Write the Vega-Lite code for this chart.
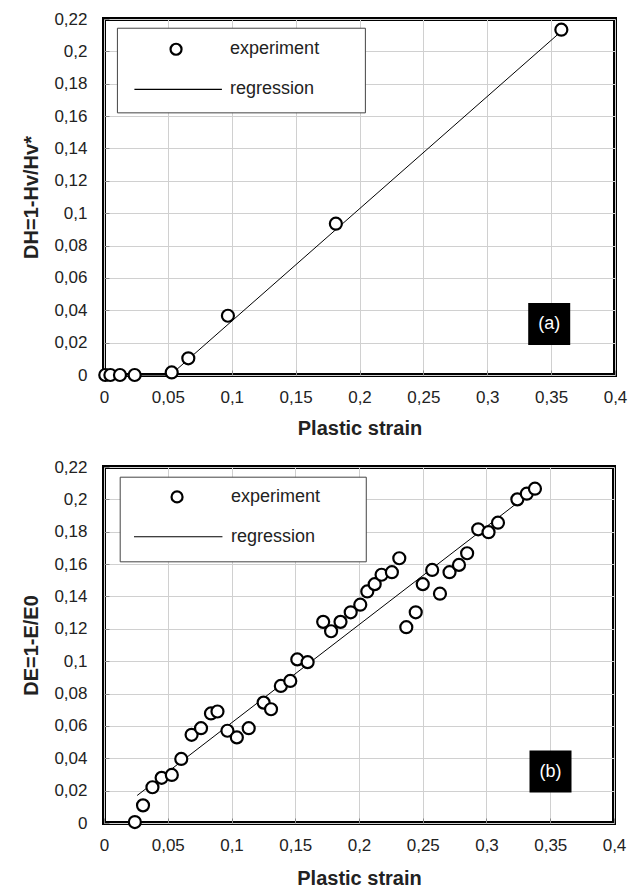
{
  "$schema": "https://vega.github.io/schema/vega-lite/v6.json",
  "background": "white",
  "padding": {"left": 19, "top": 8, "right": 2, "bottom": 4},
  "spacing": 16,
  "config": {
    "font": "Liberation Sans",
    "view": {"stroke": "black", "strokeWidth": 4},
    "axis": {
      "grid": true, "gridColor": "#d0d0d0", "gridWidth": 1,
      "domain": false, "ticks": true, "tickSize": -5, "tickColor": "#888888", "tickWidth": 1,
      "labelFont": "Liberation Sans", "labelFontSize": 17, "labelColor": "#222222",
      "labelFlush": false, "labelOverlap": false,
      "titleFont": "Liberation Sans", "titleFontWeight": "bold", "titleFontSize": 20, "titleColor": "#222222"
    },
    "text": {"font": "Liberation Sans", "fontSize": 18, "color": "#222222", "align": "left", "baseline": "middle"}
  },
  "datasets": {
    "a_points": [
      {"strain": 0.001, "damage": 0.0},
      {"strain": 0.005, "damage": 0.0},
      {"strain": 0.0125, "damage": 0.0},
      {"strain": 0.024, "damage": 0.0},
      {"strain": 0.053, "damage": 0.0016},
      {"strain": 0.066, "damage": 0.0103},
      {"strain": 0.097, "damage": 0.0366},
      {"strain": 0.1815, "damage": 0.0935},
      {"strain": 0.358, "damage": 0.2134}
    ],
    "a_fit": [
      {"strain": 0.0, "damage": 0.0},
      {"strain": 0.052, "damage": 0.0},
      {"strain": 0.356, "damage": 0.211}
    ],
    "b_points": [
      {"strain": 0.0242, "damage": 0.0006},
      {"strain": 0.0306, "damage": 0.0109},
      {"strain": 0.038, "damage": 0.0221},
      {"strain": 0.0452, "damage": 0.0279},
      {"strain": 0.0532, "damage": 0.0297},
      {"strain": 0.0606, "damage": 0.0396},
      {"strain": 0.0687, "damage": 0.0545},
      {"strain": 0.0761, "damage": 0.0586},
      {"strain": 0.0839, "damage": 0.0677},
      {"strain": 0.089, "damage": 0.0689},
      {"strain": 0.0968, "damage": 0.057},
      {"strain": 0.1042, "damage": 0.0529},
      {"strain": 0.1135, "damage": 0.0586},
      {"strain": 0.1252, "damage": 0.0744},
      {"strain": 0.131, "damage": 0.0703},
      {"strain": 0.1387, "damage": 0.0847},
      {"strain": 0.1461, "damage": 0.0878},
      {"strain": 0.1516, "damage": 0.1011},
      {"strain": 0.1597, "damage": 0.0994},
      {"strain": 0.1719, "damage": 0.1243},
      {"strain": 0.1781, "damage": 0.1185},
      {"strain": 0.1855, "damage": 0.1243},
      {"strain": 0.1935, "damage": 0.1302},
      {"strain": 0.201, "damage": 0.1349},
      {"strain": 0.2065, "damage": 0.1431},
      {"strain": 0.2123, "damage": 0.1476},
      {"strain": 0.2177, "damage": 0.1534},
      {"strain": 0.2258, "damage": 0.155},
      {"strain": 0.2316, "damage": 0.1636},
      {"strain": 0.2371, "damage": 0.121},
      {"strain": 0.2445, "damage": 0.1302},
      {"strain": 0.25, "damage": 0.1476},
      {"strain": 0.2574, "damage": 0.1564},
      {"strain": 0.2635, "damage": 0.1417},
      {"strain": 0.271, "damage": 0.155},
      {"strain": 0.2784, "damage": 0.1595},
      {"strain": 0.2848, "damage": 0.1667},
      {"strain": 0.2935, "damage": 0.1815},
      {"strain": 0.3016, "damage": 0.1797},
      {"strain": 0.309, "damage": 0.1856},
      {"strain": 0.3242, "damage": 0.2},
      {"strain": 0.3316, "damage": 0.2035},
      {"strain": 0.338, "damage": 0.2066}
    ],
    "b_fit": [
      {"strain": 0.026, "damage": 0.017},
      {"strain": 0.336, "damage": 0.205}
    ]
  },
  "vconcat": [
    {
      "width": 511,
      "height": 356,
      "layer": [
        {
          "data": {"name": "a_fit"},
          "mark": {"type": "line", "color": "black", "strokeWidth": 1},
          "encoding": {
            "x": {"field": "strain", "type": "quantitative", "scale": {"domain": [0, 0.4], "nice": false, "zero": false},
              "axis": {"title": "Plastic strain", "values": [0, 0.05, 0.1, 0.15, 0.2, 0.25, 0.3, 0.35, 0.4], "labelExpr": "replace(format(datum.value, '.2~f'), '.', ',')", "labelPadding": 19, "titlePadding": 13}},
            "y": {"field": "damage", "type": "quantitative", "scale": {"domain": [0, 0.22], "nice": false, "zero": false},
              "axis": {"title": "DH=1-Hv/Hv*", "values": [0, 0.02, 0.04, 0.06, 0.08, 0.1, 0.12, 0.14, 0.16, 0.18, 0.2, 0.22], "labelExpr": "replace(format(datum.value, '.2~f'), '.', ',')", "labelPadding": 22, "titlePadding": 12}}
          }
        },
        {
          "data": {"name": "a_points"},
          "mark": {"type": "point", "shape": "circle", "size": 144, "strokeWidth": 2.2, "stroke": "black", "fill": "white", "fillOpacity": 1, "opacity": 1},
          "encoding": {
            "x": {"field": "strain", "type": "quantitative", "scale": {"domain": [0, 0.4], "nice": false, "zero": false},
              "axis": {"title": "Plastic strain", "values": [0, 0.05, 0.1, 0.15, 0.2, 0.25, 0.3, 0.35, 0.4], "labelExpr": "replace(format(datum.value, '.2~f'), '.', ',')", "labelPadding": 19, "titlePadding": 13}},
            "y": {"field": "damage", "type": "quantitative", "scale": {"domain": [0, 0.22], "nice": false, "zero": false},
              "axis": {"title": "DH=1-Hv/Hv*", "values": [0, 0.02, 0.04, 0.06, 0.08, 0.1, 0.12, 0.14, 0.16, 0.18, 0.2, 0.22], "labelExpr": "replace(format(datum.value, '.2~f'), '.', ',')", "labelPadding": 22, "titlePadding": 12}}
          }
        },
        {
          "data": {"values": [{"item": "legend box a"}]},
          "mark": {"type": "rect", "fill": "white", "stroke": "#444444", "strokeWidth": 1},
          "encoding": {
            "x": {"datum": 0.0105, "type": "quantitative", "scale": {"domain": [0, 0.4], "nice": false, "zero": false},
              "axis": {"title": "Plastic strain", "values": [0, 0.05, 0.1, 0.15, 0.2, 0.25, 0.3, 0.35, 0.4], "labelExpr": "replace(format(datum.value, '.2~f'), '.', ',')", "labelPadding": 19, "titlePadding": 13}},
            "x2": {"datum": 0.2046},
            "y": {"datum": 0.2143, "type": "quantitative", "scale": {"domain": [0, 0.22], "nice": false, "zero": false},
              "axis": {"title": "DH=1-Hv/Hv*", "values": [0, 0.02, 0.04, 0.06, 0.08, 0.1, 0.12, 0.14, 0.16, 0.18, 0.2, 0.22], "labelExpr": "replace(format(datum.value, '.2~f'), '.', ',')", "labelPadding": 22, "titlePadding": 12}},
            "y2": {"datum": 0.162}
          }
        },
        {
          "data": {"values": [{"item": "legend symbol a"}]},
          "mark": {"type": "point", "shape": "circle", "size": 121, "strokeWidth": 2.2, "stroke": "black", "fill": "white", "fillOpacity": 1, "opacity": 1},
          "encoding": {
            "x": {"datum": 0.0564, "type": "quantitative", "scale": {"domain": [0, 0.4], "nice": false, "zero": false},
              "axis": {"title": "Plastic strain", "values": [0, 0.05, 0.1, 0.15, 0.2, 0.25, 0.3, 0.35, 0.4], "labelExpr": "replace(format(datum.value, '.2~f'), '.', ',')", "labelPadding": 19, "titlePadding": 13}},
            "y": {"datum": 0.2013, "type": "quantitative", "scale": {"domain": [0, 0.22], "nice": false, "zero": false},
              "axis": {"title": "DH=1-Hv/Hv*", "values": [0, 0.02, 0.04, 0.06, 0.08, 0.1, 0.12, 0.14, 0.16, 0.18, 0.2, 0.22], "labelExpr": "replace(format(datum.value, '.2~f'), '.', ',')", "labelPadding": 22, "titlePadding": 12}}
          }
        },
        {
          "data": {"values": [{"item": "legend line a"}]},
          "mark": {"type": "rule", "color": "black", "strokeWidth": 1.2},
          "encoding": {
            "x": {"datum": 0.0238, "type": "quantitative", "scale": {"domain": [0, 0.4], "nice": false, "zero": false},
              "axis": {"title": "Plastic strain", "values": [0, 0.05, 0.1, 0.15, 0.2, 0.25, 0.3, 0.35, 0.4], "labelExpr": "replace(format(datum.value, '.2~f'), '.', ',')", "labelPadding": 19, "titlePadding": 13}},
            "x2": {"datum": 0.0923},
            "y": {"datum": 0.1765, "type": "quantitative", "scale": {"domain": [0, 0.22], "nice": false, "zero": false},
              "axis": {"title": "DH=1-Hv/Hv*", "values": [0, 0.02, 0.04, 0.06, 0.08, 0.1, 0.12, 0.14, 0.16, 0.18, 0.2, 0.22], "labelExpr": "replace(format(datum.value, '.2~f'), '.', ',')", "labelPadding": 22, "titlePadding": 12}}
          }
        },
        {
          "data": {"values": [{"label": "experiment"}]},
          "mark": {"type": "text"},
          "encoding": {
            "x": {"datum": 0.0987, "type": "quantitative", "scale": {"domain": [0, 0.4], "nice": false, "zero": false},
              "axis": {"title": "Plastic strain", "values": [0, 0.05, 0.1, 0.15, 0.2, 0.25, 0.3, 0.35, 0.4], "labelExpr": "replace(format(datum.value, '.2~f'), '.', ',')", "labelPadding": 19, "titlePadding": 13}},
            "y": {"datum": 0.2013, "type": "quantitative", "scale": {"domain": [0, 0.22], "nice": false, "zero": false},
              "axis": {"title": "DH=1-Hv/Hv*", "values": [0, 0.02, 0.04, 0.06, 0.08, 0.1, 0.12, 0.14, 0.16, 0.18, 0.2, 0.22], "labelExpr": "replace(format(datum.value, '.2~f'), '.', ',')", "labelPadding": 22, "titlePadding": 12}},
            "text": {"field": "label"}
          }
        },
        {
          "data": {"values": [{"label": "regression"}]},
          "mark": {"type": "text"},
          "encoding": {
            "x": {"datum": 0.0987, "type": "quantitative", "scale": {"domain": [0, 0.4], "nice": false, "zero": false},
              "axis": {"title": "Plastic strain", "values": [0, 0.05, 0.1, 0.15, 0.2, 0.25, 0.3, 0.35, 0.4], "labelExpr": "replace(format(datum.value, '.2~f'), '.', ',')", "labelPadding": 19, "titlePadding": 13}},
            "y": {"datum": 0.1765, "type": "quantitative", "scale": {"domain": [0, 0.22], "nice": false, "zero": false},
              "axis": {"title": "DH=1-Hv/Hv*", "values": [0, 0.02, 0.04, 0.06, 0.08, 0.1, 0.12, 0.14, 0.16, 0.18, 0.2, 0.22], "labelExpr": "replace(format(datum.value, '.2~f'), '.', ',')", "labelPadding": 22, "titlePadding": 12}},
            "text": {"field": "label"}
          }
        },
        {
          "data": {"values": [{"tag": "(a)"}]},
          "mark": {"type": "point", "shape": "square", "size": 1764, "filled": true, "color": "black", "opacity": 1},
          "encoding": {
            "x": {"datum": 0.3485, "type": "quantitative", "scale": {"domain": [0, 0.4], "nice": false, "zero": false},
              "axis": {"title": "Plastic strain", "values": [0, 0.05, 0.1, 0.15, 0.2, 0.25, 0.3, 0.35, 0.4], "labelExpr": "replace(format(datum.value, '.2~f'), '.', ',')", "labelPadding": 19, "titlePadding": 13}},
            "y": {"datum": 0.0315, "type": "quantitative", "scale": {"domain": [0, 0.22], "nice": false, "zero": false},
              "axis": {"title": "DH=1-Hv/Hv*", "values": [0, 0.02, 0.04, 0.06, 0.08, 0.1, 0.12, 0.14, 0.16, 0.18, 0.2, 0.22], "labelExpr": "replace(format(datum.value, '.2~f'), '.', ',')", "labelPadding": 22, "titlePadding": 12}}
          }
        },
        {
          "data": {"values": [{"tag": "(a)"}]},
          "mark": {"type": "text", "color": "white", "align": "center"},
          "encoding": {
            "x": {"datum": 0.3485, "type": "quantitative", "scale": {"domain": [0, 0.4], "nice": false, "zero": false},
              "axis": {"title": "Plastic strain", "values": [0, 0.05, 0.1, 0.15, 0.2, 0.25, 0.3, 0.35, 0.4], "labelExpr": "replace(format(datum.value, '.2~f'), '.', ',')", "labelPadding": 19, "titlePadding": 13}},
            "y": {"datum": 0.0315, "type": "quantitative", "scale": {"domain": [0, 0.22], "nice": false, "zero": false},
              "axis": {"title": "DH=1-Hv/Hv*", "values": [0, 0.02, 0.04, 0.06, 0.08, 0.1, 0.12, 0.14, 0.16, 0.18, 0.2, 0.22], "labelExpr": "replace(format(datum.value, '.2~f'), '.', ',')", "labelPadding": 22, "titlePadding": 12}},
            "text": {"field": "tag"}
          }
        }
      ]
    },
    {
      "width": 510,
      "height": 356,
      "layer": [
        {
          "data": {"name": "b_fit"},
          "mark": {"type": "line", "color": "black", "strokeWidth": 1},
          "encoding": {
            "x": {"field": "strain", "type": "quantitative", "scale": {"domain": [0, 0.4], "nice": false, "zero": false},
              "axis": {"title": "Plastic strain", "values": [0, 0.05, 0.1, 0.15, 0.2, 0.25, 0.3, 0.35, 0.4], "labelExpr": "replace(format(datum.value, '.2~f'), '.', ',')", "labelPadding": 19, "titlePadding": 15}},
            "y": {"field": "damage", "type": "quantitative", "scale": {"domain": [0, 0.22], "nice": false, "zero": false},
              "axis": {"title": "DE=1-E/E0", "values": [0, 0.02, 0.04, 0.06, 0.08, 0.1, 0.12, 0.14, 0.16, 0.18, 0.2, 0.22], "labelExpr": "replace(format(datum.value, '.2~f'), '.', ',')", "labelPadding": 22, "titlePadding": 12}}
          }
        },
        {
          "data": {"name": "b_points"},
          "mark": {"type": "point", "shape": "circle", "size": 144, "strokeWidth": 2.2, "stroke": "black", "fill": "white", "fillOpacity": 1, "opacity": 1},
          "encoding": {
            "x": {"field": "strain", "type": "quantitative", "scale": {"domain": [0, 0.4], "nice": false, "zero": false},
              "axis": {"title": "Plastic strain", "values": [0, 0.05, 0.1, 0.15, 0.2, 0.25, 0.3, 0.35, 0.4], "labelExpr": "replace(format(datum.value, '.2~f'), '.', ',')", "labelPadding": 19, "titlePadding": 15}},
            "y": {"field": "damage", "type": "quantitative", "scale": {"domain": [0, 0.22], "nice": false, "zero": false},
              "axis": {"title": "DE=1-E/E0", "values": [0, 0.02, 0.04, 0.06, 0.08, 0.1, 0.12, 0.14, 0.16, 0.18, 0.2, 0.22], "labelExpr": "replace(format(datum.value, '.2~f'), '.', ',')", "labelPadding": 22, "titlePadding": 12}}
          }
        },
        {
          "data": {"values": [{"item": "legend box b"}]},
          "mark": {"type": "rect", "fill": "white", "stroke": "#444444", "strokeWidth": 1},
          "encoding": {
            "x": {"datum": 0.0127, "type": "quantitative", "scale": {"domain": [0, 0.4], "nice": false, "zero": false},
              "axis": {"title": "Plastic strain", "values": [0, 0.05, 0.1, 0.15, 0.2, 0.25, 0.3, 0.35, 0.4], "labelExpr": "replace(format(datum.value, '.2~f'), '.', ',')", "labelPadding": 19, "titlePadding": 15}},
            "x2": {"datum": 0.2057},
            "y": {"datum": 0.2137, "type": "quantitative", "scale": {"domain": [0, 0.22], "nice": false, "zero": false},
              "axis": {"title": "DE=1-E/E0", "values": [0, 0.02, 0.04, 0.06, 0.08, 0.1, 0.12, 0.14, 0.16, 0.18, 0.2, 0.22], "labelExpr": "replace(format(datum.value, '.2~f'), '.', ',')", "labelPadding": 22, "titlePadding": 12}},
            "y2": {"datum": 0.1614}
          }
        },
        {
          "data": {"values": [{"item": "legend symbol b"}]},
          "mark": {"type": "point", "shape": "circle", "size": 121, "strokeWidth": 2.2, "stroke": "black", "fill": "white", "fillOpacity": 1, "opacity": 1},
          "encoding": {
            "x": {"datum": 0.0573, "type": "quantitative", "scale": {"domain": [0, 0.4], "nice": false, "zero": false},
              "axis": {"title": "Plastic strain", "values": [0, 0.05, 0.1, 0.15, 0.2, 0.25, 0.3, 0.35, 0.4], "labelExpr": "replace(format(datum.value, '.2~f'), '.', ',')", "labelPadding": 19, "titlePadding": 15}},
            "y": {"datum": 0.2015, "type": "quantitative", "scale": {"domain": [0, 0.22], "nice": false, "zero": false},
              "axis": {"title": "DE=1-E/E0", "values": [0, 0.02, 0.04, 0.06, 0.08, 0.1, 0.12, 0.14, 0.16, 0.18, 0.2, 0.22], "labelExpr": "replace(format(datum.value, '.2~f'), '.', ',')", "labelPadding": 22, "titlePadding": 12}}
          }
        },
        {
          "data": {"values": [{"item": "legend line b"}]},
          "mark": {"type": "rule", "color": "black", "strokeWidth": 1.2},
          "encoding": {
            "x": {"datum": 0.0235, "type": "quantitative", "scale": {"domain": [0, 0.4], "nice": false, "zero": false},
              "axis": {"title": "Plastic strain", "values": [0, 0.05, 0.1, 0.15, 0.2, 0.25, 0.3, 0.35, 0.4], "labelExpr": "replace(format(datum.value, '.2~f'), '.', ',')", "labelPadding": 19, "titlePadding": 15}},
            "x2": {"datum": 0.0929},
            "y": {"datum": 0.1769, "type": "quantitative", "scale": {"domain": [0, 0.22], "nice": false, "zero": false},
              "axis": {"title": "DE=1-E/E0", "values": [0, 0.02, 0.04, 0.06, 0.08, 0.1, 0.12, 0.14, 0.16, 0.18, 0.2, 0.22], "labelExpr": "replace(format(datum.value, '.2~f'), '.', ',')", "labelPadding": 22, "titlePadding": 12}}
          }
        },
        {
          "data": {"values": [{"label": "experiment"}]},
          "mark": {"type": "text"},
          "encoding": {
            "x": {"datum": 0.0996, "type": "quantitative", "scale": {"domain": [0, 0.4], "nice": false, "zero": false},
              "axis": {"title": "Plastic strain", "values": [0, 0.05, 0.1, 0.15, 0.2, 0.25, 0.3, 0.35, 0.4], "labelExpr": "replace(format(datum.value, '.2~f'), '.', ',')", "labelPadding": 19, "titlePadding": 15}},
            "y": {"datum": 0.2015, "type": "quantitative", "scale": {"domain": [0, 0.22], "nice": false, "zero": false},
              "axis": {"title": "DE=1-E/E0", "values": [0, 0.02, 0.04, 0.06, 0.08, 0.1, 0.12, 0.14, 0.16, 0.18, 0.2, 0.22], "labelExpr": "replace(format(datum.value, '.2~f'), '.', ',')", "labelPadding": 22, "titlePadding": 12}},
            "text": {"field": "label"}
          }
        },
        {
          "data": {"values": [{"label": "regression"}]},
          "mark": {"type": "text"},
          "encoding": {
            "x": {"datum": 0.0996, "type": "quantitative", "scale": {"domain": [0, 0.4], "nice": false, "zero": false},
              "axis": {"title": "Plastic strain", "values": [0, 0.05, 0.1, 0.15, 0.2, 0.25, 0.3, 0.35, 0.4], "labelExpr": "replace(format(datum.value, '.2~f'), '.', ',')", "labelPadding": 19, "titlePadding": 15}},
            "y": {"datum": 0.1769, "type": "quantitative", "scale": {"domain": [0, 0.22], "nice": false, "zero": false},
              "axis": {"title": "DE=1-E/E0", "values": [0, 0.02, 0.04, 0.06, 0.08, 0.1, 0.12, 0.14, 0.16, 0.18, 0.2, 0.22], "labelExpr": "replace(format(datum.value, '.2~f'), '.', ',')", "labelPadding": 22, "titlePadding": 12}},
            "text": {"field": "label"}
          }
        },
        {
          "data": {"values": [{"tag": "(b)"}]},
          "mark": {"type": "point", "shape": "square", "size": 1764, "filled": true, "color": "black", "opacity": 1},
          "encoding": {
            "x": {"datum": 0.3502, "type": "quantitative", "scale": {"domain": [0, 0.4], "nice": false, "zero": false},
              "axis": {"title": "Plastic strain", "values": [0, 0.05, 0.1, 0.15, 0.2, 0.25, 0.3, 0.35, 0.4], "labelExpr": "replace(format(datum.value, '.2~f'), '.', ',')", "labelPadding": 19, "titlePadding": 15}},
            "y": {"datum": 0.0318, "type": "quantitative", "scale": {"domain": [0, 0.22], "nice": false, "zero": false},
              "axis": {"title": "DE=1-E/E0", "values": [0, 0.02, 0.04, 0.06, 0.08, 0.1, 0.12, 0.14, 0.16, 0.18, 0.2, 0.22], "labelExpr": "replace(format(datum.value, '.2~f'), '.', ',')", "labelPadding": 22, "titlePadding": 12}}
          }
        },
        {
          "data": {"values": [{"tag": "(b)"}]},
          "mark": {"type": "text", "color": "white", "align": "center"},
          "encoding": {
            "x": {"datum": 0.3502, "type": "quantitative", "scale": {"domain": [0, 0.4], "nice": false, "zero": false},
              "axis": {"title": "Plastic strain", "values": [0, 0.05, 0.1, 0.15, 0.2, 0.25, 0.3, 0.35, 0.4], "labelExpr": "replace(format(datum.value, '.2~f'), '.', ',')", "labelPadding": 19, "titlePadding": 15}},
            "y": {"datum": 0.0318, "type": "quantitative", "scale": {"domain": [0, 0.22], "nice": false, "zero": false},
              "axis": {"title": "DE=1-E/E0", "values": [0, 0.02, 0.04, 0.06, 0.08, 0.1, 0.12, 0.14, 0.16, 0.18, 0.2, 0.22], "labelExpr": "replace(format(datum.value, '.2~f'), '.', ',')", "labelPadding": 22, "titlePadding": 12}},
            "text": {"field": "tag"}
          }
        }
      ]
    }
  ]
}
